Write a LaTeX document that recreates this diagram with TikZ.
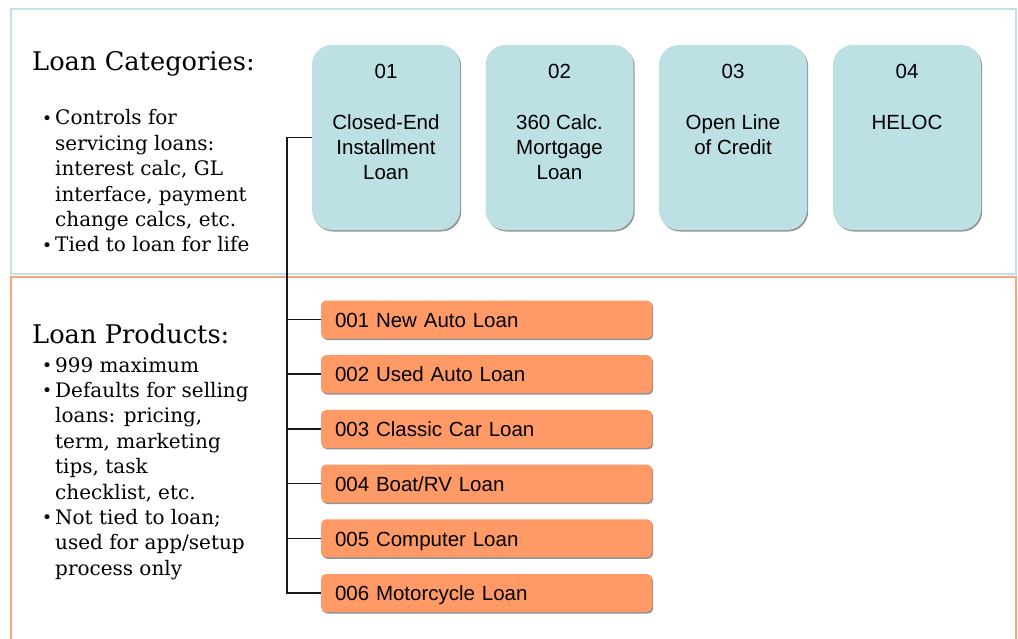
\documentclass[tikz,border=0pt]{standalone}
\usepackage{fontspec}
\setmainfont{DejaVu Serif}
\newfontfamily\boxfont{Liberation Sans}
\usetikzlibrary{shadows}
\definecolor{catfill}{HTML}{BCE0E3}
\definecolor{prodfill}{HTML}{FF9A66}
\definecolor{catline}{HTML}{BFE2E6}
\definecolor{prodline}{HTML}{F9A47D}
\newcommand{\bul}{\makebox[13pt][l]{\raisebox{0.5pt}{\fontsize{17}{17}\selectfont\textbullet}}}
\newcommand{\ind}{\hspace*{13pt}}
\tikzset{
  catbox/.style={draw=none, fill=catfill, rounded corners=20pt, minimum width=148pt, minimum height=185pt, inner sep=0pt,
    drop shadow={shadow xshift=1.2pt, shadow yshift=-1.5pt, fill=black!60, opacity=.7}},
  cattext/.style={font=\boxfont\fontsize{20.5}{25}\selectfont, align=center, inner sep=0pt, anchor=north},
  prodbox/.style={draw=none, fill=prodfill, rounded corners=5pt, text width=303pt, minimum height=38pt, inner xsep=14pt, inner ysep=0pt,
    text height=15.5pt, text depth=0pt,
    align=left, font=\boxfont\fontsize{20.5}{24}\selectfont,
    drop shadow={shadow xshift=1.2pt, shadow yshift=-1.5pt, fill=black!60, opacity=.7}},
  heading/.style={font=\fontsize{25.7}{30}\selectfont, inner sep=0pt, anchor=base west},
  bullets/.style={font=\fontsize{20}{25.4}\selectfont, align=left, inner sep=0pt, anchor=north west},
  conn/.style={draw=black!90, line width=1.5pt}
}
\begin{document}
\begin{tikzpicture}[x=1pt,y=-1pt]
\useasboundingbox (0,0) rectangle (1018,638);
% panels
\draw[catline, line width=1.2pt] (11,9) rectangle (1016,274);
\draw[prodline, line width=1.4pt] (11,645) -- (11,277) -- (1016,277) -- (1016,645);
% left texts
\node[heading] (h1) at (32,70) {Loan Categories:};
\node[bullets] (b1) at (42,109.5) {\bul Controls for\\ \ind servicing loans:\\ \ind interest calc, GL\\ \ind interface, payment\\ \ind change calcs, etc.\\ \bul Tied to loan for life};
\node[heading] (h2) at (32,343) {Loan Products:};
\node[bullets] (b2) at (42,357) {\bul 999 maximum\\ \bul Defaults for selling\\ \ind loans: pricing,\\ \ind term, marketing\\ \ind tips, task\\ \ind checklist, etc.\\ \bul Not tied to loan;\\ \ind used for app/setup\\ \ind process only};
% category boxes
\node[catbox] (c1) at (386,137.5) {};
\node[catbox] (c2) at (559.5,137.5) {};
\node[catbox] (c3) at (733,137.5) {};
\node[catbox] (c4) at (907,137.5) {};
\foreach \n/\num/\txt in {c1/01/{Closed-End\\Installment\\Loan}, c2/02/{360 Calc.\\Mortgage\\Loan}, c3/03/{Open Line\\of Credit}, c4/04/HELOC}{
  \node[cattext] (\n num) at ([yshift=-19pt]\n.north) {\num};
  \node[cattext] (\n txt) at ([yshift=-70pt]\n.north) {\txt};
}
% product boxes
\node[prodbox] (p1) at (486.5,319.5) {001 New Auto Loan};
\node[prodbox] (p2) at (486.5,374.2) {002 Used Auto Loan};
\node[prodbox] (p3) at (486.5,428.9) {003 Classic Car Loan};
\node[prodbox] (p4) at (486.5,483.6) {004 Boat/RV Loan};
\node[prodbox] (p5) at (486.5,538.3) {005 Computer Loan};
\node[prodbox] (p6) at (486.5,593) {006 Motorcycle Loan};
% connectors
\coordinate (trunk) at (287,137.5);
\draw[conn] (c1.west) -- (trunk) |- (p6.west);
\foreach \p in {p1,p2,p3,p4,p5}{
  \draw[conn] (trunk |- \p.west) -- (\p.west);
}
\end{tikzpicture}
\end{document}
